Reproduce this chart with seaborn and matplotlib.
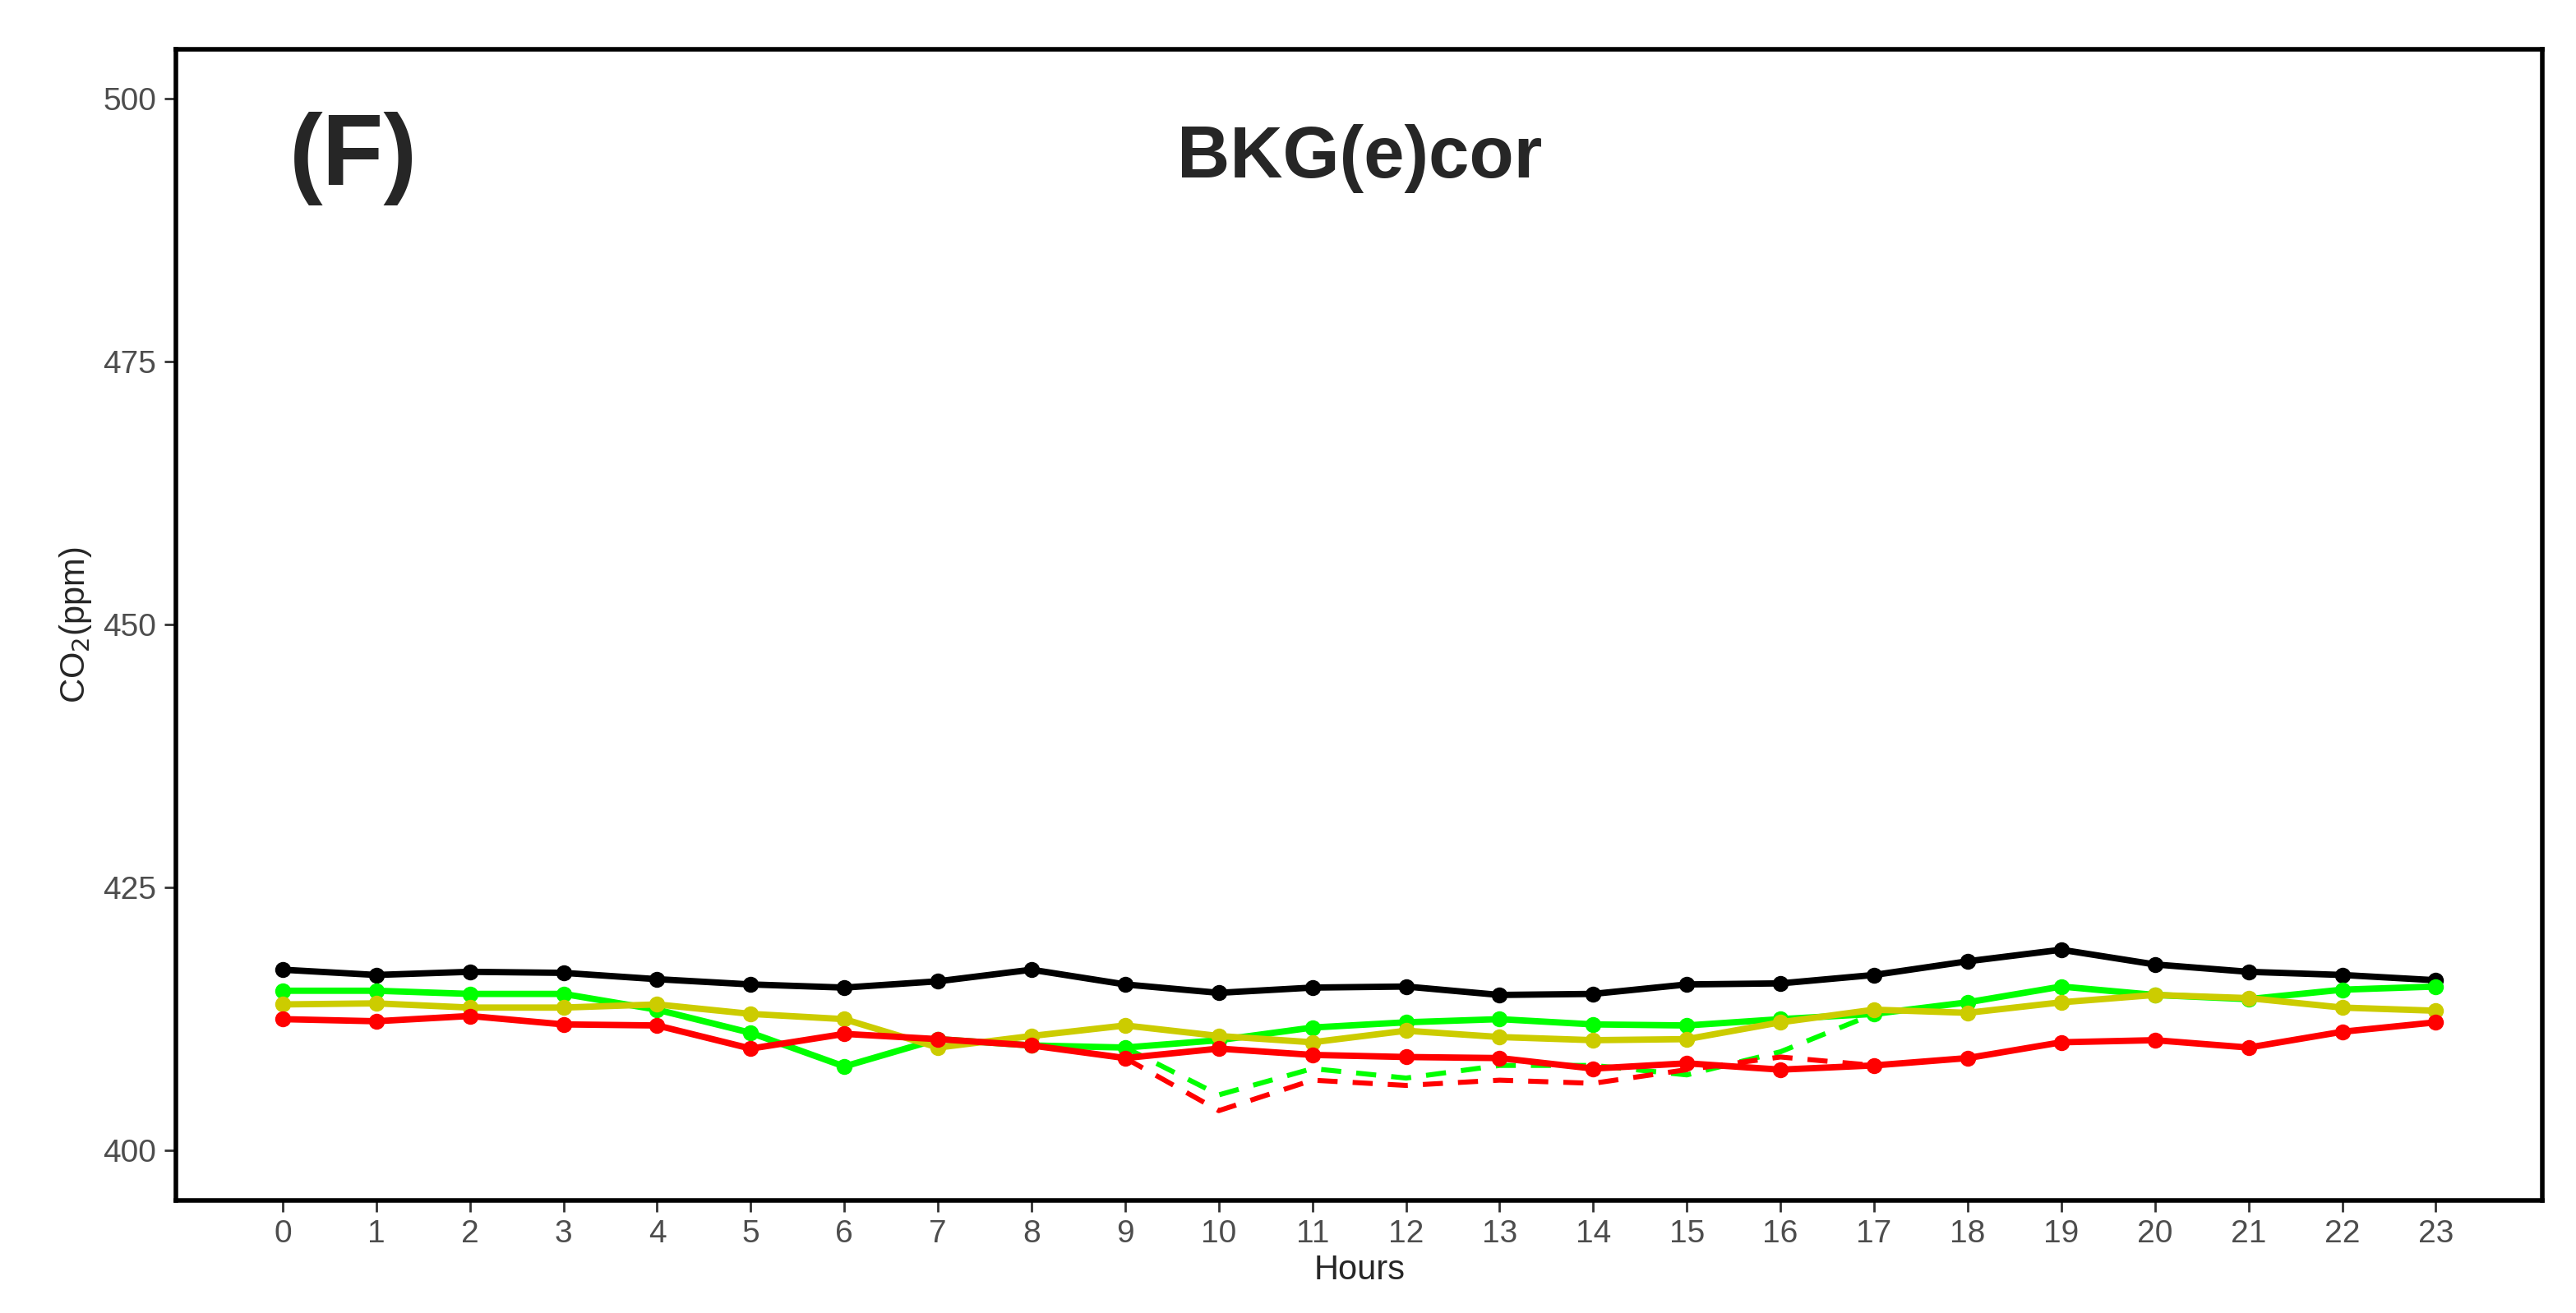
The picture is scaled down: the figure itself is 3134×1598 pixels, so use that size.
import numpy as np
import pandas as pd
import matplotlib.pyplot as plt
import seaborn as sns

sns.set_theme(style="white")
plt.rcParams["font.family"] = ["Liberation Sans", "DejaVu Sans"]

hours = list(range(24))
black = [417.2, 416.7, 417.0, 416.9, 416.3, 415.8, 415.5, 416.1, 417.2, 415.8, 415.0, 415.5,
         415.6, 414.8, 414.9, 415.8, 415.9, 416.7, 418.0, 419.1, 417.7, 417.0, 416.7, 416.2]
green = [415.2, 415.2, 414.9, 414.9, 413.4, 411.2, 408.0, 410.6, 410.0, 409.8, 410.5, 411.7,
         412.2, 412.5, 412.0, 411.9, 412.5, 413.0, 414.1, 415.6, 414.8, 414.4, 415.3, 415.6]
yellow = [413.9, 414.0, 413.6, 413.6, 413.9, 413.0, 412.5, 409.8, 410.9, 411.9, 410.9, 410.3,
          411.4, 410.8, 410.5, 410.6, 412.2, 413.4, 413.1, 414.1, 414.8, 414.5, 413.6, 413.3]
red = [412.5, 412.3, 412.8, 412.0, 411.9, 409.7, 411.1, 410.6, 410.0, 408.8, 409.7, 409.1,
       408.9, 408.8, 407.8, 408.3, 407.7, 408.1, 408.8, 410.3, 410.5, 409.8, 411.3, 412.2]
dash_hours = list(range(9, 18))
green_dash = [409.8, 405.3, 407.8, 406.9, 408.1, 408.1, 407.2, 409.4, 413.0]
red_dash = [408.8, 403.8, 406.7, 406.2, 406.7, 406.4, 407.7, 408.9, 408.1]

fig, ax = plt.subplots(figsize=(15.67, 7.99), dpi=200)

dash_df = pd.DataFrame({"h": dash_hours, "g": green_dash, "r": red_dash})
sns.lineplot(data=dash_df, x="h", y="g", color="#00ff00", lw=2.2, ls=(0, (4, 3)), ax=ax)
sns.lineplot(data=dash_df, x="h", y="r", color="#ff0000", lw=2.2, ls=(0, (4, 3)), ax=ax)

df = pd.DataFrame({"h": hours, "black": black, "green": green, "yellow": yellow, "red": red})
for col, c in [("black", "#000000"), ("green", "#00ff00"), ("yellow", "#cccc00"), ("red", "#ff0000")]:
    sns.lineplot(data=df, x="h", y=col, color=c, lw=2.8, marker="o", markersize=7,
                 markeredgewidth=0, ax=ax)

ax.set_xlim(-1.14, 24.14)
ax.set_ylim(395.3, 504.7)
ax.set_xticks(hours)
ax.set_yticks([400, 425, 450, 475, 500])
ax.tick_params(axis="both", colors="#4d4d4d", labelsize=14, length=5, width=1, bottom=True, left=True)
ax.tick_params(axis="both", colors="#333333", labelcolor="#4d4d4d")
for s in ax.spines.values():
    s.set_color("black")
    s.set_linewidth(2)
ax.set_xlabel("Hours", fontsize=15, labelpad=2)
ax.set_ylabel("CO$_2$(ppm)", fontsize=15)
ax.text(0.075, 0.905, "(F)", transform=ax.transAxes, fontsize=44, fontweight="bold", ha="center", va="center")
ax.text(0.5, 0.905, "BKG(e)cor", transform=ax.transAxes, fontsize=32, fontweight="bold", ha="center", va="center")

fig.subplots_adjust(left=0.0683, right=0.987, top=0.9625, bottom=0.086)
fig.savefig("out.png", dpi=200)
